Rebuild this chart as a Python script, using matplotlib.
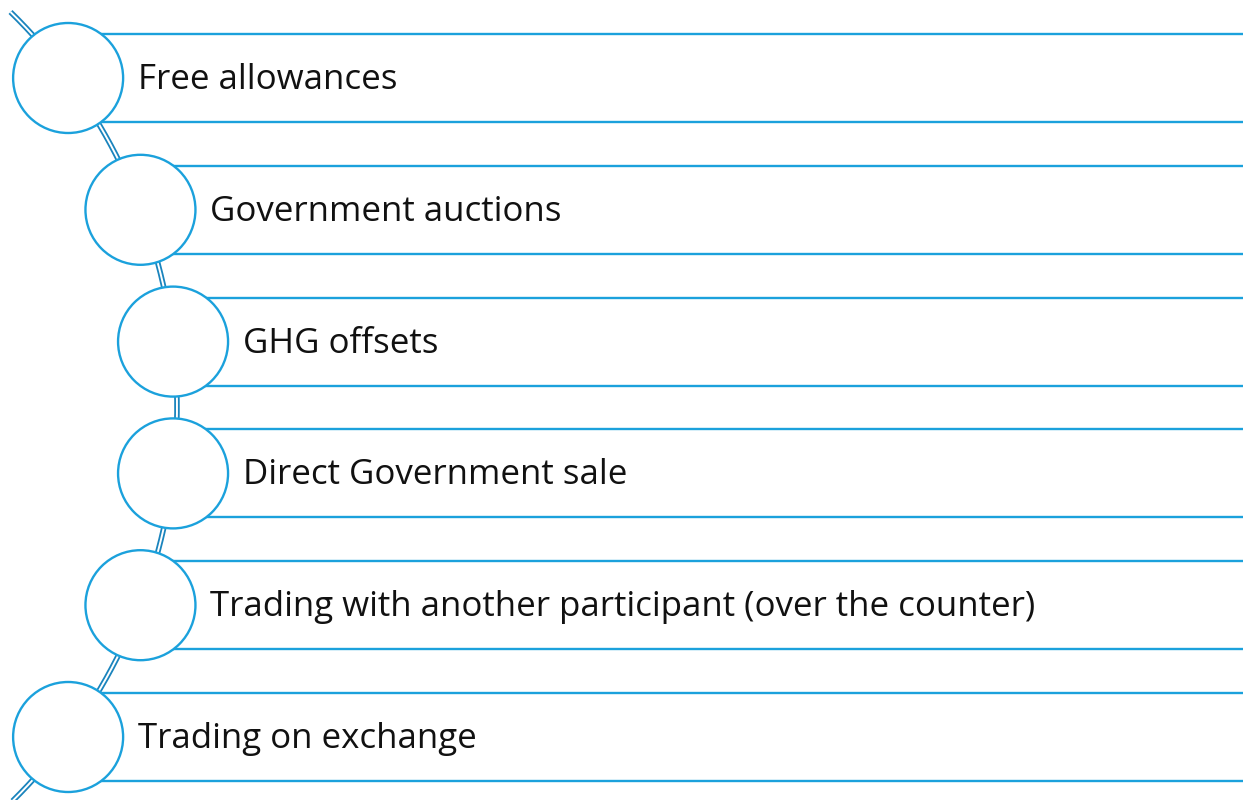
import numpy as np
import matplotlib.pyplot as plt
from matplotlib.patches import Circle

labels = [
    "Free allowances",
    "Government auctions",
    "GHG offsets",
    "Direct Government sale",
    "Trading with another participant (over the counter)",
    "Trading on exchange",
]

W, H = 1243, 800
ring_color = "#1ba1dc"
link_color = "#1a84bd"

# circles sit on a large arc, like the SmartArt layout
arc_cx, arc_cy, arc_r = -376, 407.5, 553
rad = 55
step = 131.8
top_y = 78


def arc_x(y):
    return arc_cx + np.sqrt(arc_r ** 2 - (y - arc_cy) ** 2)


fig = plt.figure(figsize=(W / 100, H / 100), dpi=100)
ax = fig.add_axes([0, 0, 1, 1])
ax.set_xlim(0, W)
ax.set_ylim(H, 0)
ax.axis("off")

# double-line connector along the arc
ys = np.linspace(12, 803, 400)
ax.plot(arc_x(ys), ys, color=link_color, lw=4.0, solid_capstyle="butt", zorder=1)
ax.plot(arc_x(ys), ys, color="white", lw=1.4, solid_capstyle="butt", zorder=1.1)

for i, label in enumerate(labels):
    cy = top_y + step * i
    cx = arc_x(cy)
    for yy in (cy - 44, cy + 44):
        ax.plot([cx, W + 5], [yy, yy], color=ring_color, lw=1.7, zorder=2)
    ax.add_patch(Circle((cx, cy), rad, facecolor="white", edgecolor=ring_color,
                        lw=1.7, zorder=3))
    ax.text(cx + 70, cy + 11, label, fontsize=25.1, family="Open Sans",
            color="#111111", va="baseline", ha="left", zorder=4)

fig.savefig("out.png", dpi=100)
